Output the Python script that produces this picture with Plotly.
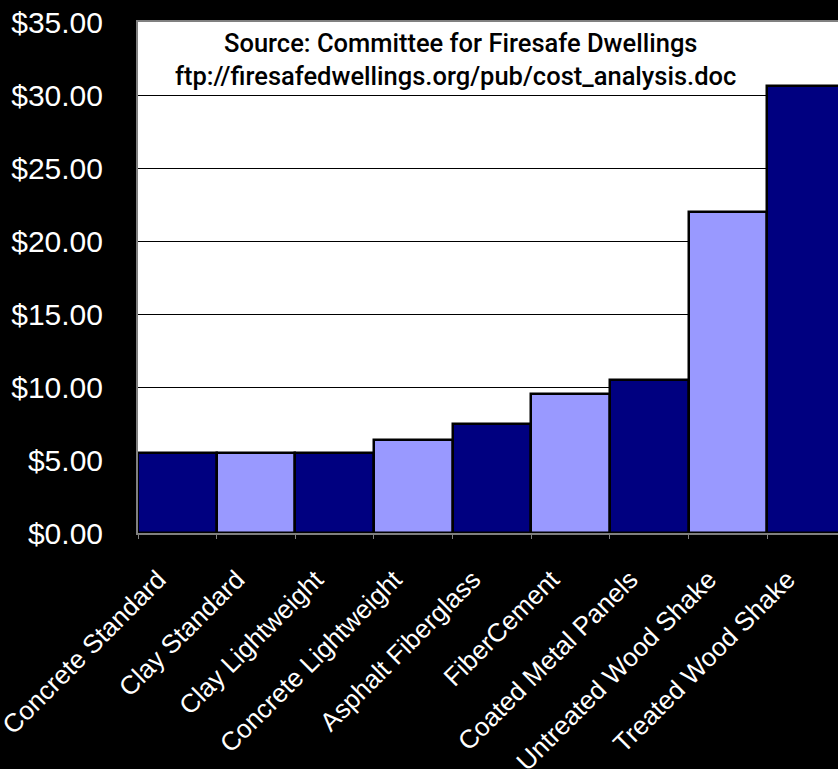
import plotly.graph_objects as go

categories = ["Concrete Standard", "Clay Standard", "Clay Lightweight", "Concrete Lightweight",
              "Asphalt Fiberglass", "FiberCement", "Coated Metal Panels",
              "Untreated Wood Shake", "Treated Wood Shake"]
costs = [5.5, 5.5, 5.5, 6.4, 7.5, 9.5, 10.5, 22.0, 30.6]
bar_colors = ["#000080", "#9999FF", "#000080", "#9999FF", "#000080",
              "#9999FF", "#000080", "#9999FF", "#000080"]
y_ticks = [0, 5, 10, 15, 20, 25, 30, 35]
y_tick_labels = ["$0.00", "$5.00", "$10.00", "$15.00", "$20.00", "$25.00", "$30.00", "$35.00"]
source_lines = ["Source: Committee for Firesafe Dwellings",
                "ftp://firesafedwellings.org/pub/cost_analysis.doc"]

W, H = 838, 769
L, R, T, B = 138, 0, 22, 236

fig = go.Figure(go.Bar(
    x=categories, y=costs,
    marker=dict(color=bar_colors, line=dict(color="#000000", width=2.5)),
))

fig.update_layout(
    width=W, height=H,
    margin=dict(l=L, r=R, t=T, b=B, pad=0, autoexpand=False),
    paper_bgcolor="#000000", plot_bgcolor="#FFFFFF",
    bargap=0, showlegend=False,
    font=dict(family="Arial, Liberation Sans, sans-serif", color="#FFFFFF"),
)
fig.update_xaxes(
    type="category", range=[-0.5, 8.40], automargin=False,
    tickangle=-45, tickfont=dict(size=26, color="#FFFFFF"),
    showline=True, linecolor="#808080", linewidth=2, mirror=True,
    ticks="outside", ticklen=4, tickcolor="#808080", tickson="boundaries",
    ticklabelshift=-19, ticklabelstandoff=19,
    showgrid=False,
)
fig.update_yaxes(
    range=[0, 35], tickvals=y_ticks, ticktext=y_tick_labels, automargin=False,
    tickfont=dict(size=30, color="#FFFFFF"),
    showline=True, linecolor="#808080", linewidth=2, mirror=True,
    showgrid=True, gridcolor="#000000", gridwidth=1,
    ticks="", ticklabelstandoff=27, zeroline=False,
)

ann_font = dict(family="Roboto, Liberation Sans Narrow, sans-serif",
                size=25.5, color="#000000", weight=500)
fig.add_annotation(text=source_lines[0], xref="paper", yref="paper",
                   x=(460 - L) / 700, y=(533 - 43) / 511, showarrow=False,
                   xanchor="center", yanchor="middle", font=ann_font)
fig.add_annotation(text=source_lines[1], xref="paper", yref="paper",
                   x=(455 - L) / 700, y=(533 - 76) / 511, showarrow=False,
                   xanchor="center", yanchor="middle", font=ann_font)

fig.write_html("out.html", config={"displayModeBar": False},
               post_script="document.body.style.margin='0';document.body.style.background='#000';")
